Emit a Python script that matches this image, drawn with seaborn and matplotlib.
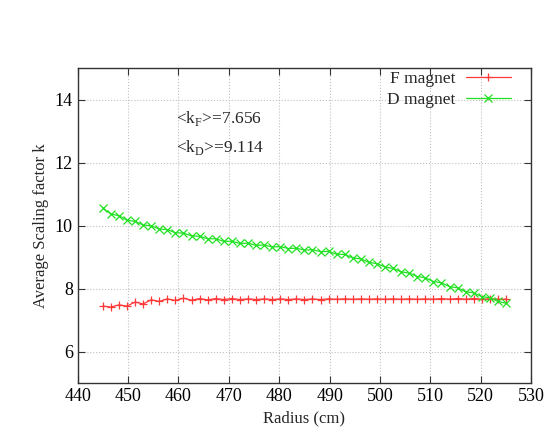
import numpy as np
import pandas as pd
import matplotlib
matplotlib.use("Agg")
import matplotlib.pyplot as plt
import seaborn as sns

# radius sampling (cm)
radius = [445.0, 446.6, 448.2, 449.8, 451.4, 453.0, 454.6, 456.2, 457.8, 459.4,
          461.0, 462.6, 464.2, 465.8, 467.4, 469.0, 470.6, 472.2, 473.8, 475.4,
          477.0, 478.6, 480.2, 481.8, 483.4, 485.0, 486.6, 488.2, 489.8, 491.4,
          493.0, 494.6, 496.2, 497.8, 499.4, 501.0, 502.6, 504.2, 505.8, 507.4,
          509.0, 510.6, 512.2, 513.8, 515.4, 517.0, 518.6, 520.2, 521.8, 523.4,
          525.0]

# average scaling factor k, F magnet
k_f = [7.45, 7.42, 7.49, 7.45, 7.58, 7.52, 7.65, 7.60, 7.68, 7.63,
       7.70, 7.64, 7.69, 7.65, 7.69, 7.66, 7.69, 7.66, 7.68, 7.66,
       7.68, 7.66, 7.68, 7.66, 7.68, 7.66, 7.68, 7.66, 7.68, 7.67,
       7.68, 7.67, 7.68, 7.67, 7.68, 7.67, 7.68, 7.67, 7.68, 7.67,
       7.68, 7.67, 7.69, 7.67, 7.69, 7.67, 7.69, 7.67, 7.68, 7.67,
       7.67]

# average scaling factor k, D magnet
k_d = [10.56, 10.38, 10.32, 10.18, 10.14, 10.03, 10.00, 9.90, 9.88, 9.78,
       9.77, 9.68, 9.67, 9.59, 9.59, 9.51, 9.51, 9.44, 9.45, 9.38,
       9.39, 9.33, 9.34, 9.28, 9.29, 9.23, 9.24, 9.18, 9.19, 9.10,
       9.09, 8.98, 8.95, 8.84, 8.80, 8.69, 8.65, 8.54, 8.50, 8.39,
       8.35, 8.23, 8.19, 8.07, 8.03, 7.91, 7.87, 7.75, 7.72, 7.60,
       7.54]

series = [("F magnet", k_f, "#ff3838", "+"),
          ("D magnet", k_d, "#22e022", "x")]

sns.set_style("ticks")
plt.rcParams["font.family"] = ["Liberation Serif", "DejaVu Serif"]

fig = plt.figure(figsize=(5.47, 4.36), dpi=100)
ax = fig.add_axes([0.142, 0.121, 0.829, 0.722])

for name, vals, col, mk in series:
    sns.lineplot(x=radius, y=vals, color=col, marker=mk, markersize=6,
                 markeredgewidth=0.9, markeredgecolor=col, linewidth=0.9,
                 label=name, ax=ax)

ax.set_xlim(440, 530)
ax.set_ylim(5, 15)
ax.set_xticks(np.arange(440, 531, 10))
ax.set_yticks([6, 8, 10, 12, 14])
ax.grid(True, color="#c0c0c0", linestyle=":", linewidth=0.8)
ax.tick_params(direction="in", top=True, right=True, labelsize=13, length=5,
               colors="#333333", labelcolor="black")
for s in ax.spines.values():
    s.set_linewidth(1.0)
    s.set_color("#333333")

ax.set_xlabel("Radius (cm)", fontsize=12)
ax.set_ylabel("Average Scaling factor k", fontsize=12)

ax.text(459.6, 13.4, r"<k$_\mathregular{F}$>=7.656", fontsize=12.5, va="center")
ax.text(459.6, 12.5, r"<k$_\mathregular{D}$>=9.114", fontsize=12.5, va="center")

ax.legend(loc="upper right", bbox_to_anchor=(0.969, 1.013), frameon=False,
          fontsize=12.5, markerfirst=False, handlelength=2.6, handletextpad=0.6,
          borderaxespad=0.15, labelspacing=0.3, borderpad=0.2)

fig.savefig("out.png", dpi=100)
